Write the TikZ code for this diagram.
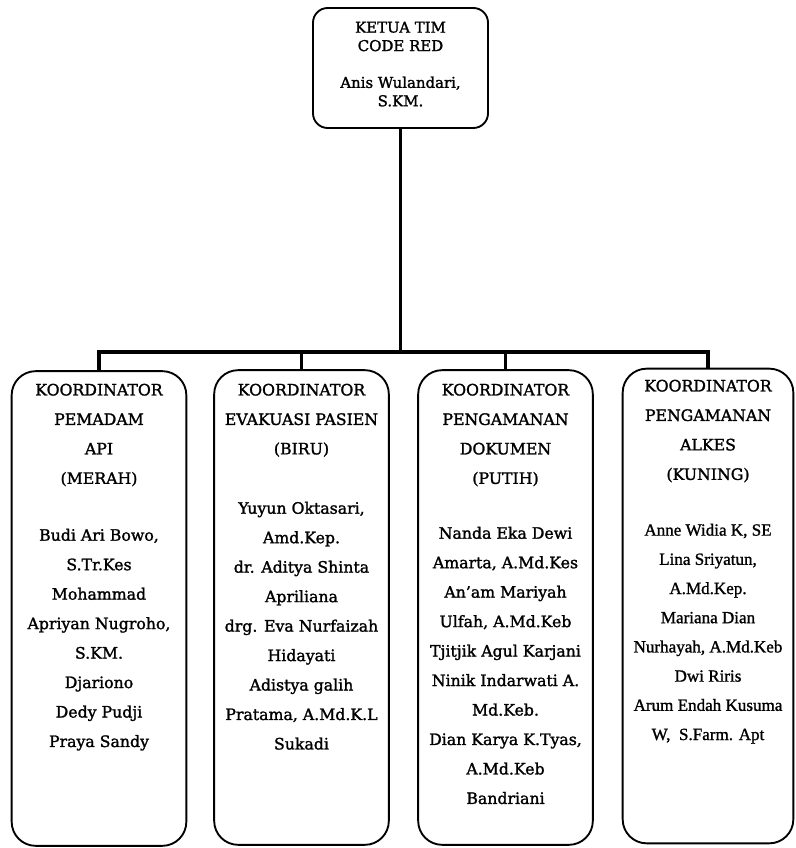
\documentclass[tikz,border=0pt]{standalone}
\usepackage{fontspec}
\setmainfont{DejaVu Serif}[BoldFont={DejaVu Serif},BoldFeatures={FakeBold=1.5}]
\newfontfamily\timesf{Liberation Serif}[BoldFont={Liberation Serif},BoldFeatures={FakeBold=1.2}]
\begin{document}
\begin{tikzpicture}[x=0.75pt,y=-0.75pt,
  topbox/.style={draw, line width=1.4pt, rounded corners=11pt, inner sep=0pt, minimum width=131.25pt, minimum height=90pt},
  child/.style={draw, line width=1.4pt, rounded corners=18pt, inner sep=0pt, minimum width=131pt, minimum height=356pt},
  conn/.style={line width=2.5pt},
  toptxt/.style={align=center, anchor=north, inner sep=0pt, font=\bfseries\fontsize{11.2}{13.8}\selectfont},
  txt/.style={align=center, anchor=north, inner sep=0pt, font=\bfseries\fontsize{11.8}{22.1}\selectfont},
  ttxt/.style={align=center, anchor=north, inner sep=0pt, font=\timesf\bfseries\fontsize{12.8}{21.9}\selectfont}]
\useasboundingbox (0,0) rectangle (795,848);
\fill[white] (0,0) rectangle (795,848);

\node[topbox] (top) at (400.5,68) {};
\node[toptxt] (toptext) at (400.5,21.5) {KETUA TIM\\CODE RED\\[13.8pt]Anis Wulandari,\\S.KM.};

\node[child] (c1) at (99,608.5) {};
\node[child] (c2) at (301.5,607.5) {};
\node[child] (c3) at (505.5,607.5) {};
\node[child, minimum width=128pt] (c4) at (708,606) {};

\coordinate (j) at (400.5,352);
\draw[conn] (top.south) -- (top.south |- j);
\draw[conn] (c1.north) -- (c1.north |- j) -- (c4.north |- j) -- (c4.north);
\draw[conn] (c2.north) -- (c2.north |- j);
\draw[conn] (c3.north) -- (c3.north |- j);

\node[txt] (h1) at (99,383.5) {KOORDINATOR\\PEMADAM\\API\\(MERAH)};
\node[txt] (n1) at (99,528.5) {Budi Ari Bowo,\\S.Tr.Kes\\Mohammad\\Apriyan Nugroho,\\S.KM.\\Djariono\\Dedy Pudji\\Praya Sandy};

\node[txt] (h2) at (301.5,383.5) {KOORDINATOR\\EVAKUASI PASIEN\\(BIRU)};
\node[txt] (n2) at (301.5,501.5) {Yuyun Oktasari,\\Amd.Kep.\\dr. Aditya Shinta\\Apriliana\\drg. Eva Nurfaizah\\Hidayati\\Adistya galih\\Pratama, A.Md.K.L\\Sukadi};

\node[txt] (h3) at (505.5,383.5) {KOORDINATOR\\PENGAMANAN\\DOKUMEN\\(PUTIH)};
\node[txt] (n3) at (505.5,526.5) {Nanda Eka Dewi\\Amarta, A.Md.Kes\\An'am Mariyah\\Ulfah, A.Md.Keb\\Tjitjik Agul Karjani\\Ninik Indarwati A.\\Md.Keb.\\Dian Karya K.Tyas,\\A.Md.Keb\\Bandriani};

\node[txt] (h4) at (708,379.5) {KOORDINATOR\\PENGAMANAN\\ALKES\\(KUNING)};
\node[ttxt] (n4) at (708,523.5) {Anne Widia K, SE\\Lina Sriyatun,\\A.Md.Kep.\\Mariana Dian\\Nurhayah, A.Md.Keb\\Dwi Riris\\Arum Endah Kusuma\\W,\ \ S.Farm. Apt};
\end{tikzpicture}
\end{document}
